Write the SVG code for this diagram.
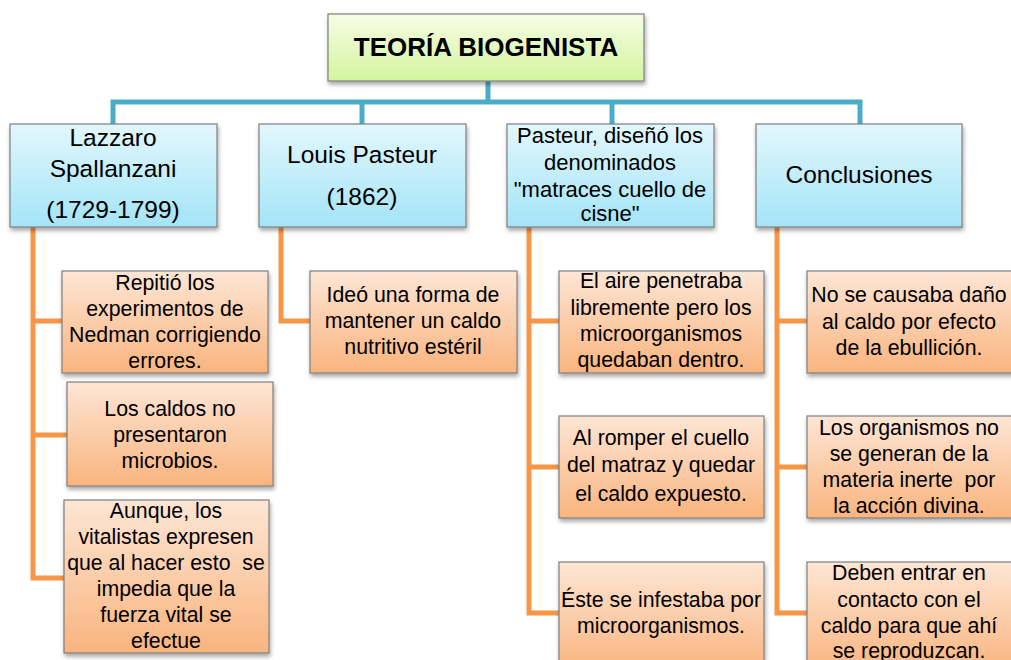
<svg xmlns="http://www.w3.org/2000/svg" width="1011" height="660" viewBox="0 0 1011 660">
<style>
.t{font-family:"Liberation Sans",Arial,sans-serif;fill:#000;text-anchor:middle;white-space:pre}
.s{font-size:21.3px}
.m{font-size:24.5px}
.b{font-size:22px}
.title{font-size:26px;font-weight:bold}
.blue{fill:url(#gb);stroke:#7f7f7f;stroke-width:1.2;filter:url(#sh)}
.or{fill:url(#go);stroke:#7f7f7f;stroke-width:1.2;filter:url(#sh)}
.green{fill:url(#gg);stroke:#7f7f7f;stroke-width:1.2;filter:url(#sh)}
.teal{fill:none;stroke:#4bacc6;stroke-width:5}
.orl{fill:none;stroke:#f79646;stroke-width:5}
</style>
<defs>
<linearGradient id="gb" x1="0" y1="0" x2="0" y2="1"><stop offset="0" stop-color="#e3f7fd"/><stop offset="1" stop-color="#a3e4f7"/></linearGradient>
<linearGradient id="go" x1="0" y1="0" x2="0" y2="1"><stop offset="0" stop-color="#fde6d5"/><stop offset="1" stop-color="#f9b47e"/></linearGradient>
<linearGradient id="gg" x1="0" y1="0" x2="0" y2="1"><stop offset="0" stop-color="#f6fde4"/><stop offset="1" stop-color="#d3f59e"/></linearGradient>
<filter id="sh" x="-10%" y="-10%" width="120%" height="130%"><feDropShadow dx="1" dy="3" stdDeviation="2" flood-color="#000" flood-opacity="0.35"/></filter>
</defs>
<rect width="1011" height="660" fill="#fff"/>
<g id="connectors">
<path class="teal" d="M488 81V102M113 124V102H860V124M362 102V124M612 102V124"/>
<path class="orl" d="M33 227V578H64M33 321H62M33 435H67"/>
<path class="orl" d="M281 227V321H310"/>
<path class="orl" d="M529 227V613H559M529 321H559M529 467H559"/>
<path class="orl" d="M777 227V613H807M777 321H807M777 467H807"/>
</g>
<g id="title"><rect class="green" x="328" y="14" width="316" height="67"/><text class="t title" x="486" y="56">TEORÍA BIOGENISTA</text></g>
<g id="spallanzani"><rect class="blue" x="10" y="124" width="207" height="103"/><text class="t m" x="113" y="146">Lazzaro</text><text class="t m" x="113" y="177">Spallanzani</text><text class="t m" x="113" y="218">(1729-1799)</text></g>
<g id="pasteur"><rect class="blue" x="259" y="124" width="207" height="103"/><text class="t m" x="362" y="163">Louis Pasteur</text><text class="t m" x="362" y="205">(1862)</text></g>
<g id="matraces"><rect class="blue" x="507" y="124" width="207" height="103"/><text class="t b" x="610" y="143">Pasteur, diseñó los</text><text class="t b" x="610" y="170">denominados</text><text class="t b" x="610" y="197">"matraces cuello de</text><text class="t b" x="610" y="221">cisne"</text></g>
<g id="conclusiones"><rect class="blue" x="756" y="124" width="206" height="103"/><text class="t m" x="859" y="183">Conclusiones</text></g>
<g id="s1"><rect class="or" x="62" y="271" width="206" height="102"/><text class="t s" x="165" y="290">Repitió los</text><text class="t s" x="165" y="316">experimentos de</text><text class="t s" x="165" y="342">Nedman corrigiendo</text><text class="t s" x="165" y="368">errores.</text></g>
<g id="s2"><rect class="or" x="67" y="382" width="206" height="104"/><text class="t s" x="170" y="416">Los caldos no</text><text class="t s" x="170" y="442">presentaron</text><text class="t s" x="170" y="468">microbios.</text></g>
<g id="s3"><rect class="or" x="64" y="500" width="205" height="153"/><text class="t s" x="166" y="518">Aunque, los</text><text class="t s" x="166" y="544">vitalistas expresen</text><text class="t s" x="166" y="570">que al hacer esto  se</text><text class="t s" x="166" y="596">impedia que la</text><text class="t s" x="166" y="622">fuerza vital se</text><text class="t s" x="166" y="648">efectue</text></g>
<g id="p1"><rect class="or" x="310" y="271" width="207" height="102"/><text class="t s" x="413" y="302">Ideó una forma de</text><text class="t s" x="413" y="328">mantener un caldo</text><text class="t s" x="413" y="354">nutritivo estéril</text></g>
<g id="m1"><rect class="or" x="559" y="271" width="205" height="102"/><text class="t s" x="661" y="288">El aire penetraba</text><text class="t s" x="661" y="315">libremente pero los</text><text class="t s" x="661" y="341">microorganismos</text><text class="t s" x="661" y="367">quedaban dentro.</text></g>
<g id="m2"><rect class="or" x="559" y="416" width="205" height="102"/><text class="t s" x="661" y="445">Al romper el cuello</text><text class="t s" x="661" y="472">del matraz y quedar</text><text class="t s" x="661" y="501">el caldo expuesto.</text></g>
<g id="m3"><rect class="or" x="559" y="562" width="205" height="110"/><text class="t s" x="661" y="607">Éste se infestaba por</text><text class="t s" x="661" y="633">microorganismos.</text></g>
<g id="c1"><rect class="or" x="807" y="271" width="210" height="102"/><text class="t s" x="909" y="302">No se causaba daño</text><text class="t s" x="909" y="329">al caldo por efecto</text><text class="t s" x="909" y="355">de la ebullición.</text></g>
<g id="c2"><rect class="or" x="807" y="416" width="210" height="102"/><text class="t s" x="909" y="435">Los organismos no</text><text class="t s" x="909" y="461">se generan de la</text><text class="t s" x="909" y="487">materia inerte  por</text><text class="t s" x="909" y="513">la acción divina.</text></g>
<g id="c3"><rect class="or" x="807" y="562" width="210" height="110"/><text class="t s" x="909" y="580">Deben entrar en</text><text class="t s" x="909" y="607">contacto con el</text><text class="t s" x="909" y="633">caldo para que ahí</text><text class="t s" x="909" y="658">se reproduzcan.</text></g>
</svg>
